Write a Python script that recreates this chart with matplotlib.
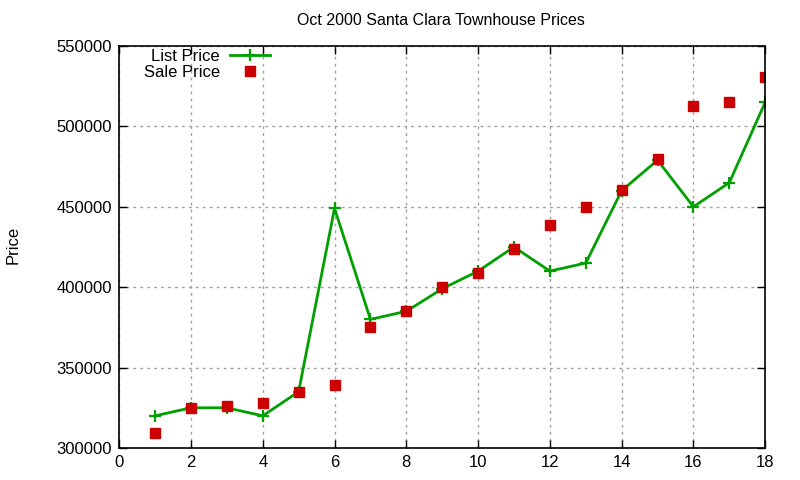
import matplotlib
matplotlib.use("Agg")
import matplotlib.pyplot as plt

x = list(range(1, 19))
list_price = [320000, 325000, 325000, 320000, 335000, 449000, 380000, 385000, 399000,
              410000, 425000, 410000, 415000, 460000, 479000, 450000, 465000, 515000]
sale_price = [309500, 325000, 326000, 328000, 335000, 339000, 375000, 385000, 400000,
              409000, 423500, 438500, 450000, 460500, 479500, 512500, 515000, 530500]
xticks = list(range(0, 19, 2))
yticks = list(range(300000, 550001, 50000))

plt.rcParams['font.family'] = ['Liberation Sans', 'DejaVu Sans']

fig = plt.figure(figsize=(8, 4.8), dpi=100)
ax = fig.add_axes([0.149, 0.0667, 0.8075, 0.8375])

ax.plot(x, list_price, color='#00a000', lw=2, marker='+', ms=8, mew=1.6, label='List Price')
ax.plot(x, sale_price, color='#cc0000', ls='none', marker='s', ms=6.5, label='Sale Price')

ax.set_xlim(0, 18)
ax.set_ylim(300000, 550000)
ax.set_xticks(xticks)
ax.set_yticks(yticks)
ax.set_yticklabels([str(v) for v in yticks])
ax.tick_params(direction='in', top=True, right=True, labelsize=12, length=6, width=1, pad=5, colors='black')
ax.grid(True, color='#a0a0a0', ls=(0, (2, 3)), lw=1)
for s in ax.spines.values():
    s.set_linewidth(1.2)

fig.text(0.551, 0.958, 'Oct 2000 Santa Clara Townhouse Prices', ha='center', va='center', fontsize=11.5)
fig.text(0.016, 0.49, 'Price', ha='center', va='center', rotation=90, fontsize=12)

leg = ax.legend(loc='upper left', bbox_to_anchor=(0.03, 1.005), frameon=False, markerfirst=False,
                fontsize=12, handlelength=2.4, borderpad=0.1, labelspacing=0.05,
                handletextpad=0.6, borderaxespad=0.2)
for t in leg.get_texts():
    t.set_ha('right')
leg._legend_box.align = 'right'

fig.savefig('out.png', dpi=100)
